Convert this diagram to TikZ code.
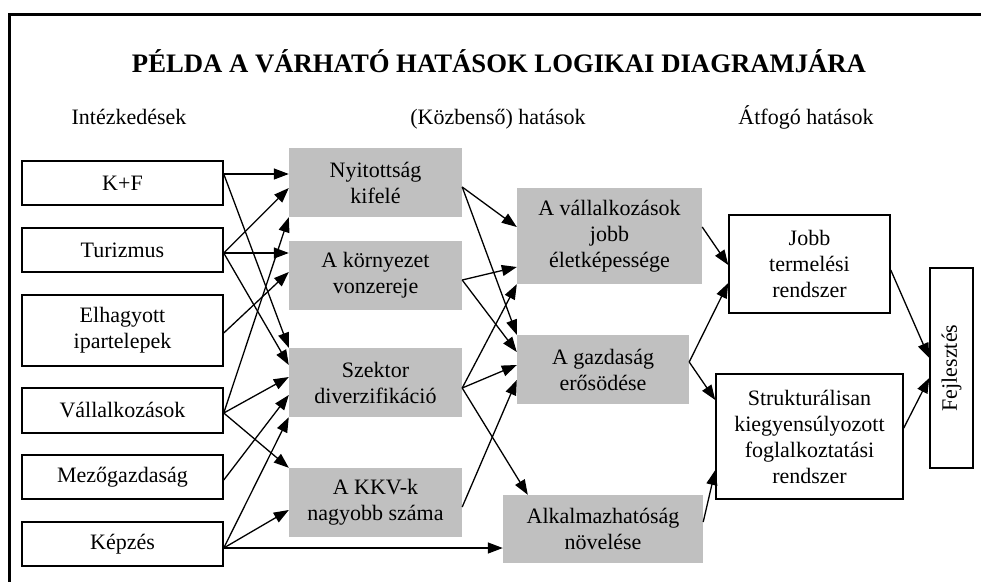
\documentclass[tikz,border=0pt]{standalone}
\usepackage{fontspec}
\setmainfont{Liberation Serif}
\usetikzlibrary{arrows.meta,calc}
\definecolor{boxgray}{RGB}{192,192,192}
\begin{document}
\begin{tikzpicture}[x=1pt,y=-1pt,
  every node/.style={font=\fontsize{22}{26}\selectfont, inner sep=0pt, align=center},
  whitebox/.style={draw, line width=1.5pt, fill=white},
  graybox/.style={fill=boxgray},
  arr/.style={line width=1.3pt, -{Triangle[length=15pt,width=11pt]}},
  header/.style={anchor=base}]
\useasboundingbox (0,0) rectangle (981,581);
% outer frame (top and left edges)
\draw[line width=3.3pt, line join=miter] (995,14.5) -- (9.3,14.5) -- (9.3,590);

% title and column headings
\node[font=\fontsize{26.7}{30}\selectfont\bfseries] (title) at (499,61) {PÉLDA A VÁRHATÓ HATÁSOK LOGIKAI DIAGRAMJÁRA};
\node[header] (h1) at (129,124) {Intézkedések};
\node[header] (h2) at (498,124) {(Közbenső) hatások};
\node[header] (h3) at (806,124) {Átfogó hatások};

% measures
\node[whitebox, minimum width=201pt, minimum height=44pt] (kf)   at (122.5,183)   {K+F};
\node[whitebox, minimum width=201pt, minimum height=44pt] (tur)  at (122.5,250)   {Turizmus};
\node[whitebox, minimum width=201pt, minimum height=71pt] (elh)  at (122.5,330.5) {Elhagyott\\ipartelepek};
\node[whitebox, minimum width=201pt, minimum height=45pt] (vall) at (122.5,410.5) {Vállalkozások};
\node[whitebox, minimum width=201pt, minimum height=44pt] (mezo) at (122.5,477)   {Mezőgazdaság};
\node[whitebox, minimum width=201pt, minimum height=44pt] (kep)  at (122.5,544)   {Képzés};

% intermediate effects, first column
\node[graybox, minimum width=173pt, minimum height=69pt] (nyit)  at (375.5,182.5) {Nyitottság\\kifelé};
\node[graybox, minimum width=173pt, minimum height=69pt] (korny) at (375.5,275.5) {A környezet\\vonzereje};
\node[graybox, minimum width=173pt, minimum height=69pt] (szek)  at (375.5,382.5) {Szektor\\diverzifikáció};
\node[graybox, minimum width=173pt, minimum height=69pt] (kkv)   at (375.5,502.5) {A KKV-k\\nagyobb száma};

% intermediate effects, second column
\node[graybox, minimum width=185pt, minimum height=96pt] (vallk) at (609.5,236)   {A vállalkozások\\jobb\\életképessége};
\node[graybox, minimum width=172pt, minimum height=69pt] (gazd)  at (603,369.5)   {A gazdaság\\erősödése};
\node[graybox, minimum width=200pt, minimum height=68pt] (alk)   at (603,529)     {Alkalmazhatóság\\növelése};

% overall effects
\node[whitebox, minimum width=161pt, minimum height=98pt]  (jobb)   at (809.5,264)   {Jobb\\termelési\\rendszer};
\node[whitebox, minimum width=187pt, minimum height=125pt] (strukt) at (809.5,436.5) {Strukturálisan\\kiegyensúlyozott\\foglalkoztatási\\rendszer};
\node[whitebox, minimum width=43pt, minimum height=200pt]  (fejl)   at (951.5,368)   {\rotatebox{90}{Fejlesztés}};

% connector start points
\coordinate (kfo)   at ([yshift=9pt]kf.east);
\coordinate (turo)  at ([yshift=-3pt]tur.east);
\coordinate (elho)  at ([yshift=-2.5pt]elh.east);
\coordinate (vallo) at ([yshift=-2.5pt]vall.east);
\coordinate (mezoo) at ([yshift=-3pt]mezo.east);
\coordinate (kepo)  at ([yshift=-4pt]kep.east);
\coordinate (nyito) at ([yshift=-4.5pt]nyit.east);
\coordinate (kornyo) at ([yshift=-4.5pt]korny.east);
\coordinate (szeko) at ([yshift=-5.5pt]szek.east);
\coordinate (kkvo)  at ([yshift=-4.5pt]kkv.east);
\coordinate (vallko) at ([yshift=9pt]vallk.east);
\coordinate (gazdo) at ([yshift=7.5pt]gazd.east);
\coordinate (alko)  at ([yshift=7pt]alk.east);
\coordinate (jobbo) at ([yshift=-6pt]jobb.east);
\coordinate (strukto) at ([yshift=8.5pt]strukt.east);

% measures -> first column
\draw[arr] (kfo) -- (kfo -| nyit.west);
\draw[arr] (kfo) -- (szek.north west);
\draw[arr] (turo) -- ([yshift=-5.5pt]nyit.west);
\draw[arr] (turo) -- (turo -| korny.west);
\draw[arr] (turo) -- ([yshift=17.5pt]szek.west);
\draw[arr] (elho) -- ([yshift=3.5pt]korny.west);
\draw[arr] (vallo) -- (nyit.south west);
\draw[arr] (vallo) -- ([yshift=5.5pt]szek.west);
\draw[arr] (vallo) -- (kkv.north west);
\draw[arr] (mezoo) -- ([yshift=-12.5pt]szek.west);
\draw[arr] (kepo) -- (szek.south west);
\draw[arr] (kepo) -- ([yshift=-7.5pt]kkv.west);
\draw[arr] (kepo) -- (kepo -| alk.west);

% first column -> second column
\draw[arr] (nyito) -- ([yshift=9pt]vallk.west);
\draw[arr] (nyito) -- (gazd.north west);
\draw[arr] (kornyo) -- ([yshift=-31pt]vallk.west);
\draw[arr] (kornyo) -- ([yshift=17.5pt]gazd.west);
\draw[arr] (szeko) -- (vallk.south west);
\draw[arr] (szeko) -- ([yshift=4.5pt]gazd.west);
\draw[arr] (szeko) -- ([xshift=25pt]alk.north west);
\draw[arr] (kkvo) -- ([yshift=-10.5pt]gazd.west);

% second column -> overall effects
\draw[arr] (vallko) -- ([yshift=-1pt]jobb.west);
\draw[arr] (gazdo) -- ([yshift=-19pt]jobb.west);
\draw[arr] (gazdo) -- ([yshift=36.5pt]strukt.west);
\draw[arr] (alko) -- ([yshift=-33.5pt]strukt.west);
\draw[arr] (jobbo) -- ([yshift=10pt]fejl.west);
\draw[arr] (strukto) -- ([yshift=-10pt]fejl.west);
\end{tikzpicture}
\end{document}
